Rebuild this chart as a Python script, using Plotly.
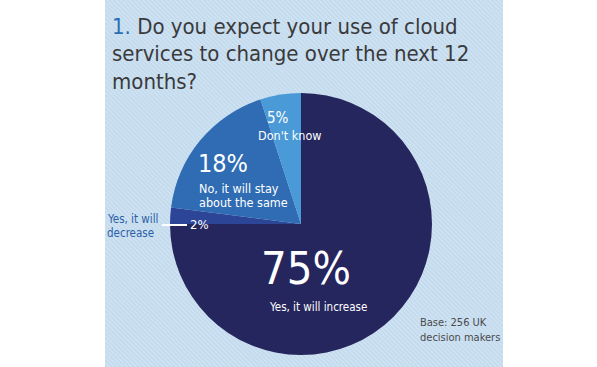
import base64
import plotly.graph_objects as go

# ---- data ----
labels = ["Yes, it will increase", "Yes, it will decrease", "No, it will stay about the same", "Don't know"]
values = [75, 2, 18, 5]
colors = ["#25265e", "#2c4596", "#2f6cb3", "#4a9ad8"]
title_num = "1."
title_lines = ["Do you expect your use of cloud", "services to change over the next 12", "months?"]
base_note = ["Base: 256 UK", "decision makers"]

W, H = 597, 367
FONT = "DejaVu Sans Condensed, DejaVu Sans, sans-serif"

def px(x):
    return x / W

def py(y):
    return 1 - y / H

# pie geometry (pixels)
cx, cy, r = 301, 224, 131

fig = go.Figure()
fig.add_trace(go.Pie(
    labels=labels, values=values, sort=False, direction="clockwise", rotation=0,
    marker=dict(colors=colors, line=dict(width=0)),
    textinfo="none", hoverinfo="label+percent", showlegend=False,
    domain=dict(x=[px(cx - r), px(cx + r)], y=[py(cy + r), py(cy - r)]),
))

# background panel with diagonal stripes
pw, ph = 398, 367
lines = []
step = 4.5
k = -ph
while k < pw + ph:
    lines.append(f'<line x1="{k:.1f}" y1="0" x2="{k + ph:.1f}" y2="{ph}" />')
    k += step
svg = (f'<svg xmlns="http://www.w3.org/2000/svg" width="{pw}" height="{ph}">'
       f'<rect width="{pw}" height="{ph}" fill="#c4dbee"/>'
       f'<g stroke="#d2e4f3" stroke-width="1.2">' + "".join(lines) + '</g></svg>')
src = "data:image/svg+xml;base64," + base64.b64encode(svg.encode()).decode()
fig.add_layout_image(dict(source=src, xref="paper", yref="paper", x=px(105), y=1,
                          sizex=px(105 + pw) - px(105), sizey=1, sizing="stretch",
                          xanchor="left", yanchor="top", layer="below"))

ann = []
def add(text, x, y, size, color, xanchor="center", yanchor="middle", align="center"):
    ann.append(dict(text=text, x=px(x), y=py(y), xref="paper", yref="paper", showarrow=False,
                    xanchor=xanchor, yanchor=yanchor, align=align,
                    font=dict(family=FONT, size=size, color=color)))

# title (one annotation per line for tight line spacing)
for i, line in enumerate(title_lines):
    txt = (f"<span style='color:#2b6cb4'>{title_num}</span> " + line) if i == 0 else line
    add(txt, 110, 26 + 28 * i, 22, "#3a3a3c", xanchor="left")

pct = [f"{v}%" for v in values]
# 75%
add(pct[0], 306, 268, 45, "white")
add(labels[0], 318, 307, 11.5, "white")
# 18%
add(pct[2], 196, 164, 25, "white", xanchor="left")
add("No, it will stay", 197, 188, 12.5, "white", xanchor="left")
add("about the same", 197, 202, 12.5, "white", xanchor="left")
# 5%
add(pct[3], 278, 118, 15, "white")
add(labels[3], 289, 135, 12.5, "white")
# 2%
add(pct[1], 188, 225, 13, "white", xanchor="left")
add("Yes, it will", 105, 219, 11.5, "#2b5fa6", xanchor="left")
add("decrease", 105, 233, 11.5, "#2b5fa6", xanchor="left")
# base
add(base_note[0], 418, 322, 11, "#4a4a4c", xanchor="left")
add(base_note[1], 418, 337, 11, "#4a4a4c", xanchor="left")

fig.add_shape(type="line", xref="paper", yref="paper", x0=px(162), x1=px(187), y0=py(225), y1=py(225),
              line=dict(color="white", width=2))

fig.update_layout(width=W, height=H, margin=dict(l=0, r=0, t=0, b=0),
                  paper_bgcolor="white", plot_bgcolor="white", annotations=ann)
fig.write_html("out.html", config={"displayModeBar": False},
               post_script="document.body.style.margin='0';")
